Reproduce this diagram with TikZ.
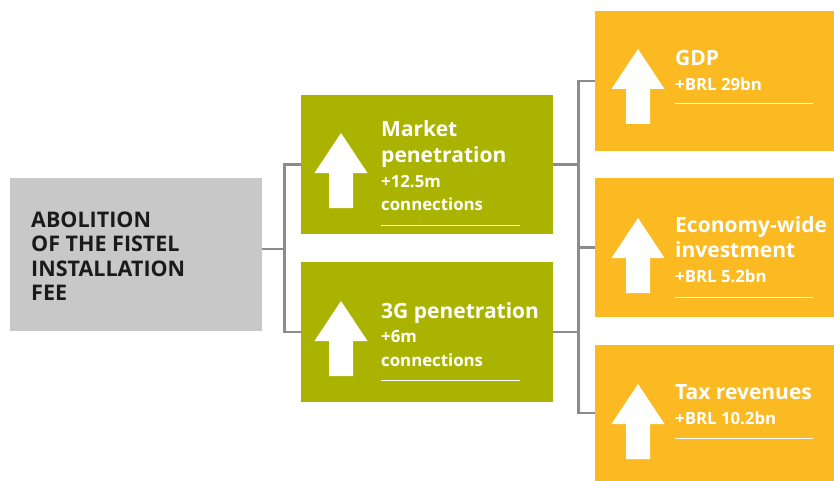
\documentclass[tikz,border=0pt]{standalone}
\usepackage{fontspec}
\setmainfont{Open Sans}
\definecolor{grn}{HTML}{AAB400}
\definecolor{ylw}{HTML}{FBBA22}
\definecolor{gbox}{HTML}{C8C8C8}
\definecolor{conn}{HTML}{8C8C8C}
\definecolor{dtxt}{HTML}{1A1A1A}
\begin{document}
\begin{tikzpicture}[x=1pt,y=-1pt,
  box/.style={draw=none,inner sep=0,outer sep=0,anchor=north west},
  ttl/.style={inner sep=0,anchor=base west,text=white,font=\fontsize{21}{24}\selectfont\bfseries},
  sub/.style={inner sep=0,anchor=base west,text=white,font=\fontsize{16.8}{19}\selectfont\bfseries},
  dk/.style={inner sep=0,anchor=base west,text=dtxt,font=\fontsize{21.5}{24}\selectfont\bfseries},
  wire/.style={draw=conn,line width=2.3pt},
  uline/.style={draw=white,line width=1pt},
  uparrow/.pic={\fill[white] (0,0) -- (26.5,40) -- (12,40) -- (12,75) -- (-12,75) -- (-12,40) -- (-26.5,40) -- cycle;}
]
\useasboundingbox (0,0) rectangle (834,481);
% boxes
\node[box,fill=gbox,minimum width=252,minimum height=153] (abol) at (10,178) {};
\node[box,fill=grn,minimum width=252,minimum height=139] (mkt) at (301,95) {};
\node[box,fill=grn,minimum width=252,minimum height=140] (g3) at (301,262) {};
\node[box,fill=ylw,minimum width=240,minimum height=140] (gdp) at (595,11) {};
\node[box,fill=ylw,minimum width=240,minimum height=139] (inv) at (595,178) {};
\node[box,fill=ylw,minimum width=240,minimum height=136] (tax) at (595,345) {};
% connectors
\coordinate (jL) at (284.5,249);
\coordinate (jR) at (578.5,247.5);
\draw[wire] (jL -| abol.east) -- (jL);
\draw[wire,line join=miter] (mkt.west) -| (jL) |- (g3.west);
\draw[wire,line join=miter] (gdp.west) -| (jR) |- (tax.west);
\draw[wire] (jR) -- (inv.west);
\draw[wire] (mkt.east) -- (mkt.east -| jR);
\draw[wire] (g3.east) -- (g3.east -| jR);
% arrows
\pic at (341,133) {uparrow};
\pic at (341,301) {uparrow};
\pic at (638,49) {uparrow};
\pic at (638,218) {uparrow};
\pic at (638,384) {uparrow};
% gray text
\node[dk] (a1) at (31,227) {ABOLITION};
\node[dk] (a2) at (31,251.5) {OF THE FISTEL};
\node[dk] (a3) at (31,276) {INSTALLATION};
\node[dk] (a4) at (31,300) {FEE};
% green top
\node[ttl] (m1) at (381,137) {Market};
\node[ttl] (m2) at (381,163) {penetration};
\node[sub] (m3) at (381,187) {+12.5m};
\node[sub] (m4) at (381,210.5) {connections};
\draw[uline] (381,225) -- (520,225);
% green bottom
\node[ttl] (t1) at (381,318) {3G penetration};
\node[sub] (t2) at (381,342) {+6m};
\node[sub] (t3) at (381,366) {connections};
\draw[uline] (381,380) -- (520,380);
% yellow top
\node[ttl] (y1) at (675,66) {GDP};
\node[sub] (y2) at (675,91) {+BRL 29bn};
\draw[uline] (675,104) -- (813,104);
% yellow middle
\node[ttl] (e1) at (675,232) {Economy-wide};
\node[ttl] (e2) at (675,257) {investment};
\node[sub] (e3) at (675,282) {+BRL 5.2bn};
\draw[uline] (675,297) -- (813,297);
% yellow bottom
\node[ttl] (x1) at (675,399) {Tax revenues};
\node[sub] (x2) at (675,424) {+BRL 10.2bn};
\draw[uline] (675,438) -- (813,438);
\end{tikzpicture}
\end{document}
